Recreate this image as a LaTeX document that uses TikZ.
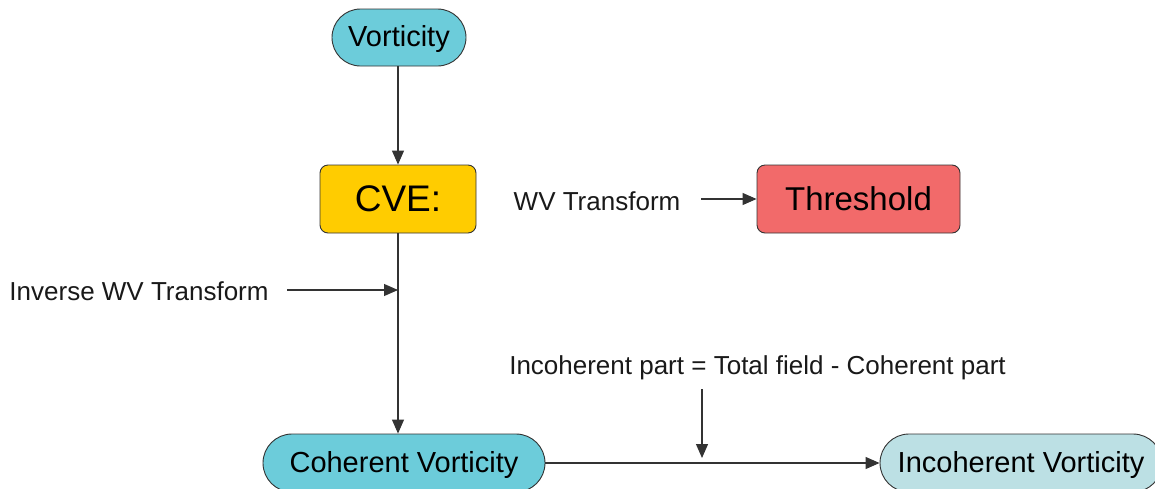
\documentclass[tikz,border=0pt]{standalone}
\usepackage{fontspec}
\setmainfont{Liberation Sans}
\usetikzlibrary{arrows.meta,shapes.misc}
\definecolor{vcyan}{HTML}{6CCCDA}
\definecolor{vlight}{HTML}{BCE0E4}
\definecolor{cvegold}{HTML}{FFCC00}
\definecolor{thred}{HTML}{F26A6A}
\definecolor{edge}{HTML}{333333}
\tikzset{
  term/.style={rounded rectangle, draw=edge, line width=0.9pt, inner sep=0pt, minimum height=57pt, text depth=3pt, font=\fontsize{29}{32}\selectfont},
  procbox/.style={rectangle, rounded corners=8pt, draw=edge, line width=0.9pt, inner sep=0pt, minimum height=68pt},
  lbl/.style={inner sep=0pt, font=\fontsize{26}{30}\selectfont, text=black!90},
  arr/.style={draw=edge, line width=1.1pt, -{Triangle[length=14pt,width=12pt]}}
}
\begin{document}
\begin{tikzpicture}[x=1pt,y=-1pt]
\useasboundingbox (0,0) rectangle (1155,488);
\clip (0,0) rectangle (1155,488);
\node[term, fill=vcyan, minimum width=134pt] (vort) at (399,37.5) {Vorticity};
\node[procbox, fill=cvegold, minimum width=156pt, font=\fontsize{37}{40}\selectfont] (cve) at (398,199) {CVE:};
\node[procbox, fill=thred, minimum width=203pt, font=\fontsize{33}{36}\selectfont] (thr) at (858.5,199) {Threshold};
\node[term, fill=vcyan, minimum width=282pt, minimum height=58pt] (coh) at (404,463) {Coherent Vorticity};
\node[term, fill=vlight, minimum width=282pt, minimum height=58pt] (inc) at (1021,463) {Incoherent Vorticity};
\node[lbl] (wv) at (597,201) {WV Transform};
\node[lbl] (inv) at (139,291) {Inverse WV Transform};
\node[lbl] (diff) at (757.5,368) {Incoherent part = Total field - Coherent part};
\coordinate (wvS) at (701,199);
\coordinate (invS) at (287,290);
\coordinate (invE) at (cve.south |- invS);
\coordinate (diffS) at (702,389);
\coordinate (diffE) at (702,458);
\draw[arr] (cve.north |- vort.south) -- (cve.north);
\draw[arr] (cve.south) -- (cve.south |- coh.north);
\draw[arr] (invS) -- (invE);
\draw[arr] (wvS) -- (thr.west);
\draw[arr] (coh.east) -- (inc.west);
\draw[arr] (diffS) -- (diffE);
\end{tikzpicture}
\end{document}
